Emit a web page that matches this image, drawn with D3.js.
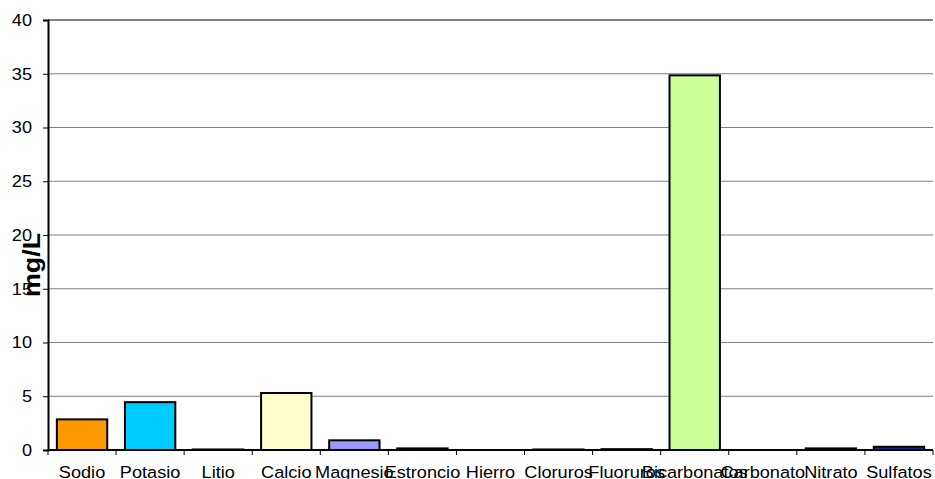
<!DOCTYPE html>
<html>
<head>
<meta charset="utf-8">
<script src="https://cdn.jsdelivr.net/npm/d3@7"></script>
<style>
  html, body { margin: 0; padding: 0; background: #fff; }
  svg { display: block; font-family: "Liberation Sans", Arial, sans-serif; }
</style>
</head>
<body>
<svg id="chart" width="935" height="479"></svg>
<script>
// Ion concentrations (mg/L)
const categories = ["Sodio", "Potasio", "Litio", "Calcio", "Magnesio", "Estroncio", "Hierro",
                    "Cloruros", "Fluoruros", "Bicarbonatos", "Carbonato", "Nitrato", "Sulfatos"];
const values = [2.85, 4.45, 0.05, 5.3, 0.9, 0.15, 0, 0.05, 0.08, 34.85, 0, 0.15, 0.3];
const barColors = ["#FF9900", "#00CCFF", "#333333", "#FFFFCC", "#9999FF", "#333333", "#333333",
                   "#333333", "#333333", "#CCFF99", "#333333", "#333333", "#003399"];
const yTicks = [0, 5, 10, 15, 20, 25, 30, 35, 40];
const yTitle = "mg/L";

const svg = d3.select("#chart");
const m = { left: 48, right: 2, top: 20, bottom: 29 };
const W = 935, H = 479;
const stretch = 1.1; // slightly wide lettering

const x = d3.scaleBand()
  .domain(categories)
  .range([m.left, W - m.right])
  .paddingInner(0.26)
  .paddingOuter(0.13);

const y = d3.scaleLinear().domain([0, 40]).range([H - m.bottom, m.top]);

// horizontal gridlines
svg.append("g")
  .selectAll("line")
  .data(yTicks.filter(t => t > 0))
  .join("line")
  .attr("x1", m.left).attr("x2", W - m.right)
  .attr("y1", d => y(d)).attr("y2", d => y(d))
  .attr("stroke", "#808080")
  .attr("stroke-width", d => d === 40 ? 2 : 1);

// bars
svg.append("g")
  .selectAll("rect")
  .data(categories.map((c, i) => ({ c, v: values[i], col: barColors[i] })))
  .join("rect")
  .attr("x", d => x(d.c))
  .attr("width", x.bandwidth())
  .attr("y", d => y(d.v))
  .attr("height", d => y(0) - y(d.v))
  .attr("fill", d => d.col)
  .attr("stroke", d => d.v > 0 ? "#000" : "none")
  .attr("stroke-width", 2);

// y axis
const yAxis = svg.append("g")
  .attr("transform", `translate(${m.left},0)`)
  .call(d3.axisLeft(y).tickValues(yTicks).tickSize(5).tickFormat(d3.format("d")));
yAxis.select(".domain").attr("stroke", "#000").attr("stroke-width", 2);
yAxis.selectAll(".tick line").attr("stroke", "#000");
yAxis.selectAll(".tick text")
  .attr("x", -16 / stretch)
  .attr("transform", `scale(${stretch},1)`)
  .attr("font-size", 16.5).attr("fill", "#000")
  .style("font-family", "'Liberation Sans', Arial, sans-serif");

// x axis with boundary ticks between categories
const xg = svg.append("g").attr("transform", `translate(0,${y(0)})`);
xg.append("line")
  .attr("x1", m.left).attr("x2", W - m.right)
  .attr("stroke", "#000").attr("stroke-width", 2);
const step = x.step();
const start = x(categories[0]) - x.paddingOuter() * step;
xg.selectAll("line.tk")
  .data(d3.range(categories.length + 1))
  .join("line")
  .attr("class", "tk")
  .attr("x1", i => start + i * step).attr("x2", i => start + i * step)
  .attr("y1", 0).attr("y2", 5)
  .attr("stroke", "#000");
xg.selectAll("text")
  .data(categories)
  .join("text")
  .attr("transform", d => `translate(${x(d) + x.bandwidth() / 2},28) scale(${stretch},1)`)
  .attr("text-anchor", "middle")
  .attr("font-size", 16.5)
  .attr("fill", "#000")
  .text(d => d);

// y axis title
svg.append("text")
  .attr("transform", `translate(40,265) rotate(-90) scale(1.12,1)`)
  .attr("text-anchor", "middle")
  .attr("font-size", 24)
  .attr("font-weight", "bold")
  .attr("fill", "#000")
  .text(yTitle);
</script>
</body>
</html>
